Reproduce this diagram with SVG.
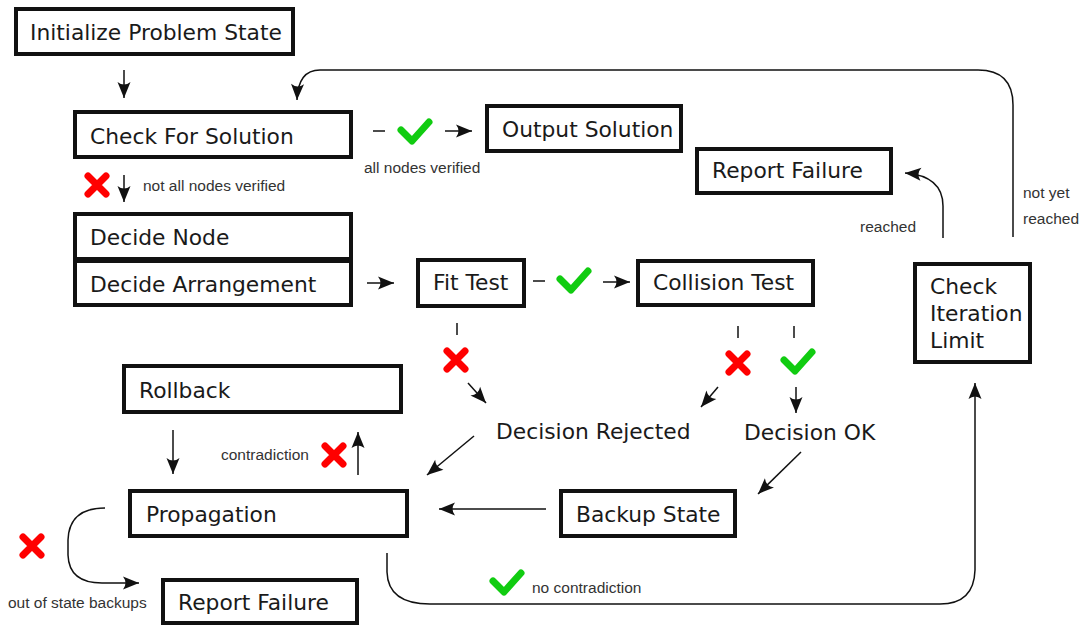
<svg xmlns="http://www.w3.org/2000/svg" xmlns:xlink="http://www.w3.org/1999/xlink" width="1079" height="628" viewBox="0 0 1079 628">
  <style>
    .box { fill: #fff; stroke: #111; stroke-width: 4; }
    .lbl { font-family: "DejaVu Sans", sans-serif; font-size: 21.8px; fill: #1a1a1a; }
    .note { font-family: "Liberation Sans", Arial, sans-serif; font-size: 15.5px; fill: #333; }
    .wire { fill: none; stroke: #111; stroke-width: 1.5; }
    .arr { marker-end: url(#ah); }
    .no { fill: none; stroke: #f00; stroke-width: 7; stroke-linecap: round; }
    .ok { fill: none; stroke: #11cc11; stroke-width: 7; stroke-linecap: round; stroke-linejoin: round; }
  </style>
  <defs>
    <marker id="ah" viewBox="-17 -8 19 16" refX="0" refY="0" markerWidth="19" markerHeight="16" orient="auto" markerUnits="userSpaceOnUse">
      <path d="M0,0 L-16,-6.5 Q-11,0 -16,6.5 Z" fill="#111"/>
    </marker>
    <path id="cross" d="M-9,-9 L9,9 M9,-9 L-9,9"/>
    <path id="tick" d="M-14,-2 L-3,9 L14,-10"/>
  </defs>

  <rect width="1079" height="628" fill="#fff"/>

  <!-- connectors -->
  <g id="connectors">
    <path class="wire arr" d="M124,70 L124,98"/>
    <path class="wire arr" d="M1013,237 L1013,105 Q1013,70 978,70 L320,70 Q298,70 297,100"/>
    <path class="wire" d="M373,131 L385,131"/>
    <path class="wire arr" d="M445,131 L472,131"/>
    <path class="wire arr" d="M124,175 L124,202"/>
    <path class="wire arr" d="M367,283 L394,283"/>
    <path class="wire" d="M533,281 L545,281"/>
    <path class="wire arr" d="M603,282 L630,282"/>
    <path class="wire" d="M457,323 L457,335"/>
    <path class="wire arr" d="M468,383 L486,403"/>
    <path class="wire" d="M738,326 L738,338"/>
    <path class="wire arr" d="M718,387 L701,407"/>
    <path class="wire" d="M794,326 L794,338"/>
    <path class="wire arr" d="M796,387 L796,413"/>
    <path class="wire arr" d="M474,436 L427,475"/>
    <path class="wire arr" d="M801,452 L758,494"/>
    <path class="wire arr" d="M546,509 L439,509"/>
    <path class="wire arr" d="M173,430 L173,474"/>
    <path class="wire arr" d="M358,475 L358,432"/>
    <path class="wire arr" d="M105,508 Q69,508 68,540 L68,555 Q69,583 102,583 L139,583"/>
    <path class="wire arr" d="M387,553 L387,572 Q388,604 430,604 L940,604 Q974,604 975,570 L975,383"/>
    <path class="wire arr" d="M943,238 L943,206 Q943,176 905,173"/>
  </g>

  <!-- outcome marks -->
  <g id="marks">
    <use xlink:href="#tick" class="ok" x="415" y="132"/>
    <use xlink:href="#cross" class="no" x="97" y="185"/>
    <use xlink:href="#tick" class="ok" x="574" y="281"/>
    <use xlink:href="#cross" class="no" x="456" y="360"/>
    <use xlink:href="#cross" class="no" x="738" y="363"/>
    <use xlink:href="#tick" class="ok" x="798" y="362"/>
    <use xlink:href="#cross" class="no" x="334" y="455"/>
    <use xlink:href="#cross" class="no" x="32" y="546"/>
    <use xlink:href="#tick" class="ok" x="507" y="583"/>
  </g>

  <!-- edge notes -->
  <g id="notes">
    <text class="note" x="143" y="191">not all nodes verified</text>
    <text class="note" x="364" y="173">all nodes verified</text>
    <text class="note" x="860" y="232">reached</text>
    <text class="note" x="1023" y="198">not yet</text>
    <text class="note" x="1023" y="224">reached</text>
    <text class="note" x="221" y="460">contradiction</text>
    <text class="note" x="8" y="608">out of state backups</text>
    <text class="note" x="532" y="593">no contradiction</text>
  </g>

  <g id="init">
    <rect class="box" x="16" y="9" width="277" height="45"/>
    <text class="lbl" x="30" y="40">Initialize Problem State</text>
  </g>
  <g id="check-solution">
    <rect class="box" x="75" y="112" width="276" height="45"/>
    <text class="lbl" x="90" y="144">Check For Solution</text>
  </g>
  <g id="decide-node">
    <rect class="box" x="75" y="214" width="276" height="45"/>
    <text class="lbl" x="90" y="245">Decide Node</text>
  </g>
  <g id="decide-arrangement">
    <rect class="box" x="75" y="261" width="276" height="44"/>
    <text class="lbl" x="90" y="292">Decide Arrangement</text>
  </g>
  <g id="output-solution">
    <rect class="box" x="487" y="106" width="194" height="45"/>
    <text class="lbl" x="502" y="137">Output Solution</text>
  </g>
  <g id="report-failure-limit">
    <rect class="box" x="697" y="149" width="194" height="44"/>
    <text class="lbl" x="712" y="178">Report Failure</text>
  </g>
  <g id="fit-test">
    <rect class="box" x="418" y="260" width="106" height="46"/>
    <text class="lbl" x="433" y="290">Fit Test</text>
  </g>
  <g id="collision-test">
    <rect class="box" x="638" y="261" width="175" height="44"/>
    <text class="lbl" x="653" y="290">Collision Test</text>
  </g>
  <g id="check-iteration">
    <rect class="box" x="915" y="264" width="115" height="98"/>
    <text class="lbl" x="930" y="294">Check</text>
    <text class="lbl" x="930" y="321">Iteration</text>
    <text class="lbl" x="930" y="348">Limit</text>
  </g>
  <g id="decision-rejected">
    <text class="lbl" x="496" y="439">Decision Rejected</text>
  </g>
  <g id="decision-ok">
    <text class="lbl" x="744" y="440">Decision OK</text>
  </g>
  <g id="rollback">
    <rect class="box" x="124" y="366" width="277" height="46"/>
    <text class="lbl" x="139" y="398">Rollback</text>
  </g>
  <g id="propagation">
    <rect class="box" x="130" y="491" width="277" height="45"/>
    <text class="lbl" x="146" y="522">Propagation</text>
  </g>
  <g id="backup-state">
    <rect class="box" x="561" y="491" width="174" height="45"/>
    <text class="lbl" x="576" y="522">Backup State</text>
  </g>
  <g id="report-failure-backups">
    <rect class="box" x="163" y="580" width="194" height="43"/>
    <text class="lbl" x="178" y="610">Report Failure</text>
  </g>
</svg>
